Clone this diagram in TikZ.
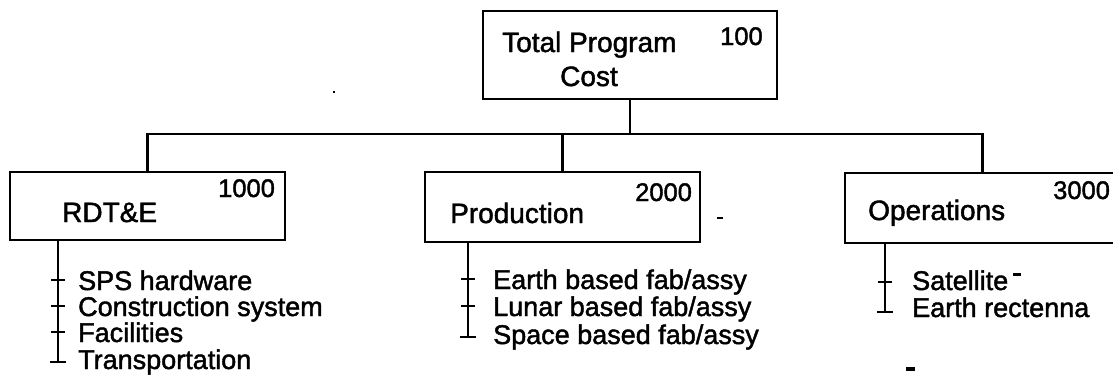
\documentclass[tikz,border=0pt]{standalone}
\usepackage{fontspec}
\setmainfont{Liberation Sans}[FakeBold=1.6]
\begin{document}
\begin{tikzpicture}[x=1pt,y=-1pt,
  wbox/.style={draw, line width=2.6pt, inner sep=0pt, outer sep=0pt},
  conn/.style={line width=2.6pt},
  listline/.style={line width=2.4pt},
  tick/.style={line width=1.4pt},
  lbl/.style={anchor=base west, inner sep=0pt, font=\fontsize{28}{34}\selectfont},
  num/.style={anchor=base west, inner sep=0pt, font=\fontsize{25.5}{30}\selectfont},
  item/.style={anchor=base west, inner sep=0pt, font=\fontsize{27}{32}\selectfont},
  speck/.style={fill=black, draw=none}]
\useasboundingbox (0,0) rectangle (1113,384);
\clip (0,0) rectangle (1113,384);

% boxes
\node[wbox, minimum width=294pt, minimum height=88pt] (top) at (630,55) {};
\node[wbox, minimum width=275pt, minimum height=68pt] (rdte) at (147.5,206) {};
\node[wbox, minimum width=275pt, minimum height=70pt] (prod) at (562.5,207) {};
\node[wbox, minimum width=275pt, minimum height=70pt] (ops) at (982.5,208) {};

% box texts
\node[lbl] (t1) at (502,52) {Total Program};
\node[lbl] (t2) at (560,86) {Cost};
\node[num] (n100) at (720,45) {100};
\node[num] (n1000) at (218,197) {1000};
\node[lbl] (l1) at (62,222) {RDT\&E};
\node[num] (n2000) at (635,201) {2000};
\node[lbl] (l2) at (450,223) {Production};
\node[num] (n3000) at (1053,199) {3000};
\node[lbl] (l3) at (868,220) {Operations};

% bus connectors
\coordinate (bus) at (0,134);
\draw[conn] (top.south) -- (top.south |- bus);
\draw[conn] (rdte.north) -- (rdte.north |- bus) -- (ops.north |- bus) -- (ops.north);
\draw[conn] (prod.north) -- (prod.north |- bus);

% RDT&E list
\coordinate (rs) at (58,240);
\coordinate (re) at (58,362);
\draw[listline] (rs) -- (re);
\foreach \yy in {280,306,332} \draw[tick] (51,\yy) -- (65,\yy);
\draw[listline] (50,362) -- (66,362);
\node[item] (r1) at (78,290) {SPS hardware};
\node[item] (r2) at (78,316) {Construction system};
\node[item] (r3) at (78,342) {Facilities};
\node[item] (r4) at (78,369) {Transportation};

% Production list
\coordinate (ps) at (468,242);
\coordinate (pe) at (468,337);
\draw[listline] (ps) -- (pe);
\foreach \yy in {279,306} \draw[tick] (461,\yy) -- (475,\yy);
\draw[listline] (460,337) -- (476,337);
\node[item] (p1) at (493,289) {Earth based fab/assy};
\node[item] (p2) at (493,316) {Lunar based fab/assy};
\node[item] (p3) at (493,344) {Space based fab/assy};

% Operations list
\coordinate (os) at (885,243);
\coordinate (oe) at (885,312);
\draw[listline] (os) -- (oe);
\draw[tick] (878,282) -- (892,282);
\draw[tick] (877,312) -- (893,312);
\node[item] (o1) at (912,290) {Satellite};
\node[item] (o2) at (912,317) {Earth rectenna};

% scan specks
\fill[speck] (1013,273) rectangle (1021,276);
\fill[speck] (906,367) rectangle (915,371);
\fill[speck] (717,217) rectangle (723,219);
\fill[speck] (333,91) rectangle (335,93);
\end{tikzpicture}
\end{document}
